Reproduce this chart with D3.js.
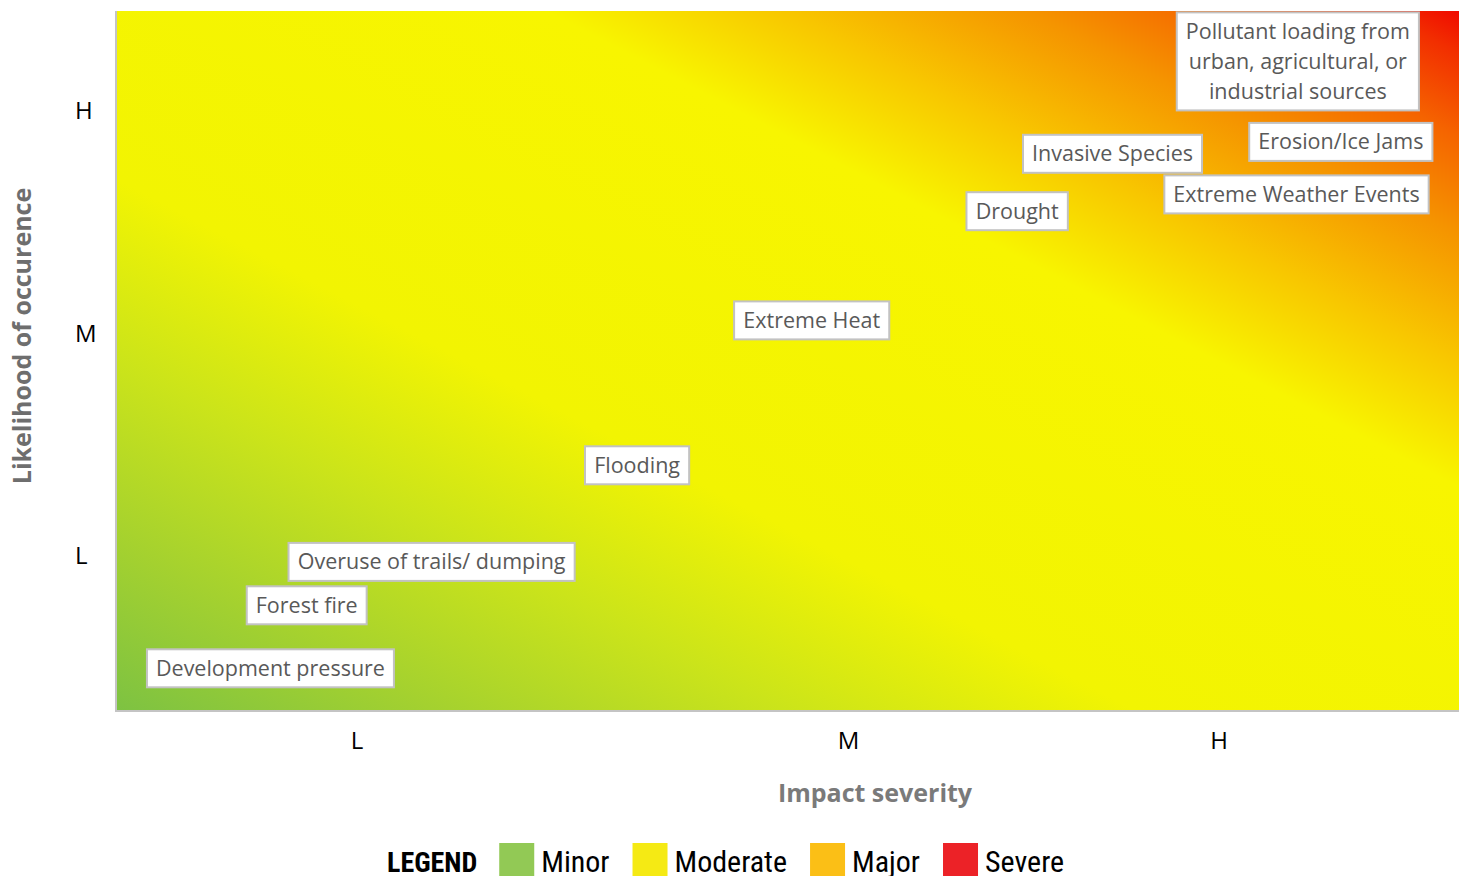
<!DOCTYPE html>
<html>
<head>
<meta charset="utf-8">
<script src="https://cdn.jsdelivr.net/npm/d3@7"></script>
<style>
  body { margin: 0; background: #fff; }
  svg { display: block; }
</style>
</head>
<body>
<div id="chart"></div>
<script>
// risk labels, placed by impact (x) and likelihood (y) on a 0-100 scale
const riskNames = [
  ['Pollutant loading from', 'urban, agricultural, or', 'industrial sources'],
  ['Erosion/Ice Jams'],
  ['Invasive Species'],
  ['Extreme Weather Events'],
  ['Drought'],
  ['Extreme Heat'],
  ['Flooding'],
  ['Overuse of trails/ dumping'],
  ['Forest fire'],
  ['Development pressure']
]
const riskImpact = [88.0, 91.2, 74.2, 87.9, 67.1, 51.8, 38.8, 23.5, 14.2, 11.5]
const riskLikelihood = [92.8, 81.3, 79.6, 73.8, 71.4, 55.8, 35.1, 21.3, 15.1, 6.1]

const xTickLabels = ['L', 'M', 'H']
const xTickValues = [17.9, 54.5, 82.1]
const yTickLabels = ['L', 'M', 'H']
const yTickValues = [22.1, 53.9, 85.7]

const legendLabels = ['Minor', 'Moderate', 'Major', 'Severe']
const legendColors = ['#92c955', '#f5ea14', '#fbbf16', '#ec2227']

// background gradient, bottom-left to top-right
const gradOffsets = [0, 0.12, 0.25, 0.38, 0.66, 0.75, 0.84, 0.91, 0.97, 1]
const gradColors = ['#7dc242', '#a4d12f', '#cbe41a', '#f2f402', '#f8f500', '#f8c600', '#f59400', '#f56400', '#f22e00', '#f00a00']

const margin = { top: 11, left: 116, right: 4, bottom: 165 }
const width = 1463 - margin.left - margin.right
const height = 876 - margin.top - margin.bottom

const svgRoot = d3
  .select('#chart')
  .append('svg')
  .attr('width', 1463)
  .attr('height', 876)

const svg = svgRoot
  .append('g')
  .attr('transform', 'translate(' + margin.left + ',' + margin.top + ')')

const x = d3.scaleLinear().domain([0, 100]).range([0, width])
const y = d3.scaleLinear().domain([0, 100]).range([height, 0])

const grad = svgRoot
  .append('defs')
  .append('linearGradient')
  .attr('id', 'risk-grad')
  .attr('x1', 0)
  .attr('y1', 1)
  .attr('x2', 1)
  .attr('y2', 0)

grad
  .selectAll('stop')
  .data(gradOffsets)
  .enter()
  .append('stop')
  .attr('offset', d => d)
  .attr('stop-color', (d, i) => gradColors[i])

svg
  .append('rect')
  .attr('x', 0)
  .attr('y', 0)
  .attr('width', width)
  .attr('height', height)
  .attr('fill', 'url(#risk-grad)')

// left + bottom frame
svg
  .append('path')
  .attr('d', `M0,0V${height}H${width}`)
  .attr('fill', 'none')
  .attr('stroke', '#c4c4c4')
  .attr('stroke-width', 2)

// axes
const xAxis = d3
  .axisBottom(x)
  .tickValues(xTickValues)
  .tickSize(0)
  .tickPadding(21)
  .tickFormat((d, i) => xTickLabels[i])

svg
  .append('g')
  .attr('transform', `translate(0,${height})`)
  .call(xAxis)
  .call(g => g.select('.domain').remove())
  .selectAll('text')
  .attr('font-family', 'Open Sans, sans-serif')
  .attr('font-size', 24)
  .attr('fill', '#000')

const yAxis = d3
  .axisLeft(y)
  .tickValues(yTickValues)
  .tickSize(0)
  .tickPadding(0)
  .tickFormat((d, i) => yTickLabels[i])

svg
  .append('g')
  .call(yAxis)
  .call(g => g.select('.domain').remove())
  .selectAll('text')
  .attr('text-anchor', 'start')
  .attr('x', -41)
  .attr('font-family', 'Open Sans, sans-serif')
  .attr('font-size', 24)
  .attr('fill', '#000')

svg
  .append('text')
  .attr('x', 759)
  .attr('y', height + 91)
  .attr('text-anchor', 'middle')
  .attr('font-family', 'Open Sans, sans-serif')
  .attr('font-weight', 'bold')
  .attr('font-size', 25)
  .attr('fill', '#7a7a7a')
  .text('Impact severity')

svg
  .append('text')
  .attr('transform', `translate(${-85},${325}) rotate(-90)`)
  .attr('text-anchor', 'middle')
  .attr('font-family', 'Open Sans, sans-serif')
  .attr('font-weight', 'bold')
  .attr('font-size', 25)
  .attr('fill', '#6e6e6e')
  .text('Likelihood of occurence')

// risk boxes
const lineH = 30
const risks = svg
  .selectAll('.risk')
  .data(riskNames)
  .enter()
  .append('g')
  .attr('class', 'risk')
  .attr('transform', (d, i) => `translate(${x(riskImpact[i])},${y(riskLikelihood[i])})`)

const riskBox = risks.append('rect')

risks
  .append('text')
  .attr('text-anchor', 'middle')
  .attr('font-family', 'Open Sans, sans-serif')
  .attr('font-size', 21.5)
  .attr('fill', '#595959')
  .selectAll('tspan')
  .data(d => d.map((line, j) => ({ line, j, n: d.length })))
  .enter()
  .append('tspan')
  .attr('x', 0)
  .attr('y', d => (d.j - (d.n - 1) / 2) * lineH + 7.5)
  .text(d => d.line)

riskBox.each(function() {
  const bb = this.parentNode.querySelector('text').getBBox()
  const n = d3.select(this.parentNode).datum().length
  const w = bb.width + 18
  const h = n * lineH + 8
  d3.select(this)
    .attr('x', -w / 2)
    .attr('y', -h / 2)
    .attr('width', w)
    .attr('height', h)
    .attr('fill', '#fff')
    .attr('stroke', '#c2c2c2')
    .attr('stroke-width', 2)
})

// legend
const legend = svgRoot.append('g').attr('transform', 'translate(387,872)')
const legendFont = 'Liberation Sans Narrow, Roboto Condensed, Arial Narrow, sans-serif'

const legendTitle = legend
  .append('text')
  .attr('font-family', legendFont)
  .attr('font-weight', 'bold')
  .attr('font-size', 28)
  .attr('fill', '#000')
  .text('LEGEND')

let lx = legendTitle.node().getComputedTextLength() + 22
legendLabels.forEach((label, i) => {
  legend
    .append('rect')
    .attr('x', lx)
    .attr('y', -29)
    .attr('width', 35)
    .attr('height', 40)
    .attr('fill', legendColors[i])
  const t = legend
    .append('text')
    .attr('x', lx + 42)
    .attr('font-family', legendFont)
    .attr('font-size', 30)
    .attr('fill', '#000')
    .text(label)
  lx += 42 + t.node().getComputedTextLength() + 23
})
</script>
</body>
</html>
